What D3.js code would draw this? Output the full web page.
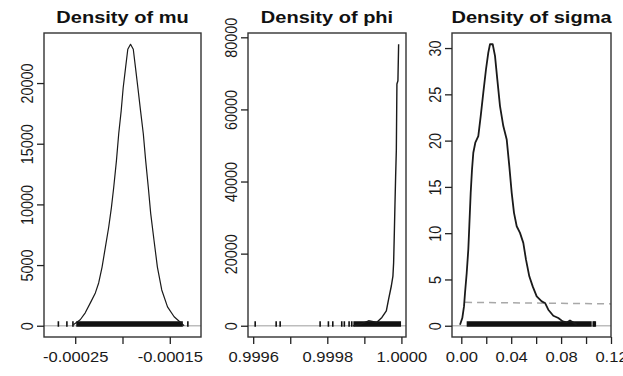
<!DOCTYPE html>
<html>
<head>
<meta charset="utf-8">
<script src="https://cdn.jsdelivr.net/npm/d3@7"></script>
<style>
  body { margin: 0; background: #fff; }
</style>
</head>
<body>
<div id="chart"></div>
<script>
// density of mu
var muX = [-0.000252, -0.0002447, -0.0002394, -0.000234, -0.0002287, -0.0002252, -0.0002216, -0.0002181,
  -0.0002146, -0.0002117, -0.0002093, -0.0002064, -0.000204, -0.0002014, -0.0001993, -0.0001968, -0.0001944,
  -0.0001915, -0.0001886, -0.0001862, -0.0001837, -0.0001809, -0.000178, -0.0001755, -0.0001727, -0.0001702,
  -0.0001667, -0.0001631, -0.0001585, -0.0001524, -0.0001454, -0.0001383, -0.0001348];
var muY = [82, 492, 1066, 1885, 2705, 3525, 4836, 6475, 8115, 9754, 11393, 13607, 15820, 17705, 19590, 21230,
  22787, 23197, 22787, 21230, 19590, 17705, 15820, 13607, 11393, 9262, 7049, 4836, 2951, 1557, 738, 246, 0];
var muRug = [-0.0002678, -0.0002588, -0.0002524, -0.0001309];
var muRugBand = [-0.0002489, -0.0001362];

// density of phi
var phiX = [0.99987, 0.99989, 0.9999115, 0.9999338, 0.9999474, 0.9999593, 0.9999655, 0.9999728, 0.9999771,
  0.999979, 0.9999809, 0.9999825, 0.9999844, 0.9999863, 0.9999879, 0.9999906, 0.9999925];
var phiY = [0, 468, 1377, 937, 2314, 4132, 7355, 11019, 13774, 17466, 25730, 33058, 41322, 48678, 67052,
  67961, 78072];
var phiRug = [0.9996054, 0.999662, 0.9996728, 0.9997806, 0.999803, 0.9998148, 0.999839, 0.999846,
  0.9998588, 0.999866];
var phiRugBand = [0.9998704, 0.999999];

// density of sigma
var sigmaX = [-0.00104, 0.0008, 0.00216, 0.00297, 0.00433, 0.00561, 0.00641, 0.00753, 0.00858, 0.00962,
  0.01122, 0.01363, 0.01555, 0.01764, 0.0198, 0.02164, 0.023, 0.02517, 0.02701, 0.02886, 0.03102, 0.03367,
  0.03639, 0.03848, 0.0404, 0.04224, 0.04441, 0.04705, 0.0497, 0.05186, 0.05451, 0.05723, 0.06044, 0.06445,
  0.06709, 0.06974, 0.07375, 0.07775, 0.08128, 0.08449, 0.08713, 0.08978, 0.0925];
var sigmaY = [0.108, 0.833, 2.09, 3.54, 5.7, 8.23, 10.75, 14.36, 16.88, 18.69, 19.77, 20.49, 22.65, 25.18,
  27.71, 29.51, 30.41, 30.41, 29.15, 26.62, 23.73, 21.57, 20.13, 17.24, 14.36, 12.2, 10.75, 10.03, 8.95,
  7.14, 5.34, 4.25, 3.17, 2.63, 2.46, 1.73, 1.08, 0.83, 0.47, 0.36, 0.57, 0.36, 0.11];
var sigmaRug = [0.1058, 0.1066, 0.1074];
var sigmaRugBand = [0.0043, 0.1045];
var sigmaPriorX = [0.003, 0.12];
var sigmaPriorY = [2.53, 2.36];

// axis limits and ticks
var titles = ["Density of mu", "Density of phi", "Density of sigma"];
var xLimits = [[-0.000283, -0.000117], [0.999586, 1.0000124], [-0.00746, 0.12]];
var xTicks = [[-0.00025, -0.0002, -0.00015], [0.9996, 0.9997, 0.9998, 0.9999, 1.0],
  [0, 0.02, 0.04, 0.06, 0.08, 0.1, 0.12]];
var xTickLabels = [["-0.00025", "", "-0.00015"], ["0.9996", "", "0.9998", "", "1.0000"],
  ["0.00", "", "0.04", "", "0.08", "", "0.12"]];
var yTicks = [[0, 5000, 10000, 15000, 20000], [0, 20000, 40000, 60000, 80000], [0, 5, 10, 15, 20, 25, 30]];

var W = 623, H = 376;
var plotTop = 33, plotBottom = 337;
var lefts = [44, 248, 452], rights = [201, 406, 611];
var stretch = 1.15;
var font = "'Liberation Sans', Arial, sans-serif";

var panels = [
  { xs: muX, ys: muY, rug: muRug, band: muRugBand, width: 1.2 },
  { xs: phiX, ys: phiY, rug: phiRug, band: phiRugBand, width: 1.4 },
  { xs: sigmaX, ys: sigmaY, rug: sigmaRug, band: sigmaRugBand, width: 1.8, priorX: sigmaPriorX, priorY: sigmaPriorY }
];

var svg = d3.select("#chart").append("svg")
  .attr("width", W)
  .attr("height", H)
  .style("display", "block");

panels.forEach(function (p, i) {
  var x = d3.scaleLinear().domain(xLimits[i]).range([lefts[i], rights[i]]);
  var ymax = d3.max(p.ys);
  var y = d3.scaleLinear().domain([-0.04 * ymax, 1.04 * ymax]).range([plotBottom, plotTop]);

  svg.append("clipPath").attr("id", "clip" + i)
    .append("rect")
    .attr("x", lefts[i]).attr("y", plotTop)
    .attr("width", rights[i] - lefts[i]).attr("height", plotBottom - plotTop);

  var g = svg.append("g").attr("clip-path", "url(#clip" + i + ")");

  // grey zero line
  g.append("line")
    .attr("x1", lefts[i]).attr("x2", rights[i])
    .attr("y1", y(0)).attr("y2", y(0))
    .attr("stroke", "#bdbdbd").attr("stroke-width", 1.5);

  // prior
  if (p.priorX) {
    g.append("path")
      .datum(d3.zip(p.priorX, p.priorY))
      .attr("d", d3.line().x(function (d) { return x(d[0]); }).y(function (d) { return y(d[1]); }))
      .attr("fill", "none")
      .attr("stroke", "#a8a8a8")
      .attr("stroke-width", 1.5)
      .attr("stroke-dasharray", "7,5");
  }

  // rug
  g.selectAll(".rug").data(p.rug).enter().append("line")
    .attr("x1", function (d) { return x(d); }).attr("x2", function (d) { return x(d); })
    .attr("y1", y(0) - 4.5).attr("y2", y(0) + 1)
    .attr("stroke", "#111").attr("stroke-width", 1.6);
  g.append("rect")
    .attr("x", x(p.band[0])).attr("width", x(p.band[1]) - x(p.band[0]))
    .attr("y", y(0) - 4.5).attr("height", 5.5)
    .attr("fill", "#111");

  // density
  g.append("path")
    .datum(d3.zip(p.xs, p.ys))
    .attr("d", d3.line().x(function (d) { return x(d[0]); }).y(function (d) { return y(d[1]); }))
    .attr("fill", "none")
    .attr("stroke", "#1a1a1a")
    .attr("stroke-width", p.width)
    .attr("stroke-linejoin", "round");

  // box
  svg.append("rect")
    .attr("x", lefts[i]).attr("y", plotTop)
    .attr("width", rights[i] - lefts[i]).attr("height", plotBottom - plotTop)
    .attr("fill", "none").attr("stroke", "#333").attr("stroke-width", 1.4);

  // x axis
  var xa = svg.append("g")
    .attr("transform", "translate(0," + plotBottom + ")")
    .call(d3.axisBottom(x).tickValues(xTicks[i]).tickSize(7)
      .tickFormat(function (d, k) { return xTickLabels[i][k]; }));
  xa.select(".domain").remove();
  xa.attr("font-family", font).attr("font-size", 14.4);
  xa.selectAll(".tick line").attr("stroke", "#222").attr("stroke-width", 1.3);
  xa.selectAll(".tick text")
    .attr("y", 0).attr("dy", null)
    .attr("fill", "#1a1a1a")
    .attr("transform", "translate(0,25) scale(" + stretch + ",1)");

  // y axis
  var ya = svg.append("g")
    .attr("transform", "translate(" + lefts[i] + ",0)")
    .call(d3.axisLeft(y).tickValues(yTicks[i]).tickSize(7).tickFormat(d3.format("d")));
  ya.select(".domain").remove();
  ya.attr("font-family", font).attr("font-size", 14.4);
  ya.selectAll(".tick line").attr("stroke", "#222").attr("stroke-width", 1.3);
  ya.selectAll(".tick text")
    .attr("x", 0).attr("dy", null)
    .attr("text-anchor", "middle")
    .attr("fill", "#1a1a1a")
    .attr("transform", "translate(-11,0) scale(" + stretch + ",1) rotate(-90)");

  // title
  svg.append("text")
    .attr("transform", "translate(" + ((lefts[i] + rights[i]) / 2) + ",23) scale(" + stretch + ",1)")
    .attr("text-anchor", "middle")
    .attr("font-family", font)
    .attr("font-weight", "bold")
    .attr("font-size", 17.4)
    .attr("fill", "#111")
    .text(titles[i]);
});
</script>
</body>
</html>
